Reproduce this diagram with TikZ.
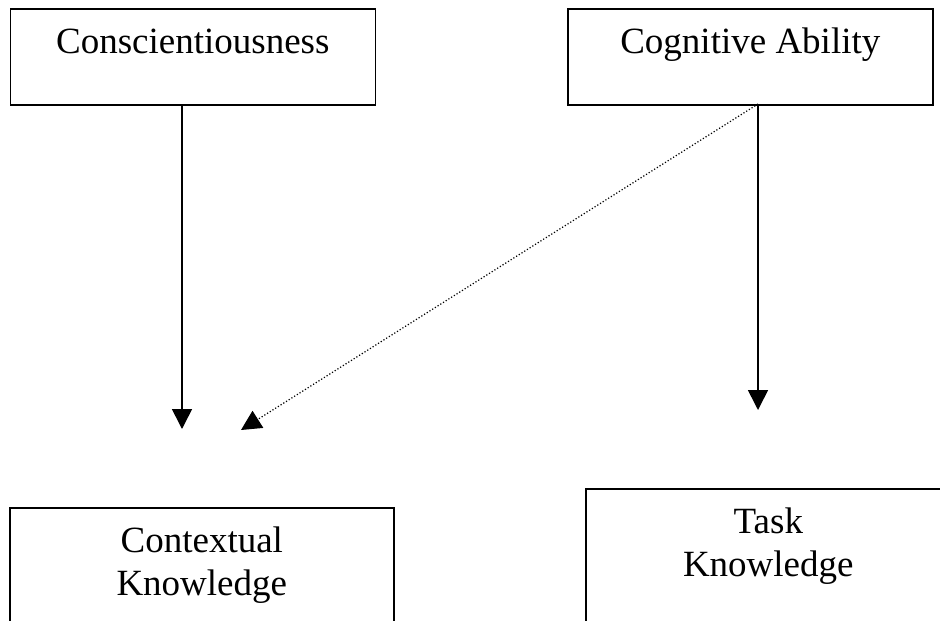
\documentclass[tikz,border=0pt]{standalone}
\usepackage{fontspec}
\setmainfont{Liberation Serif}
\usetikzlibrary{arrows.meta}
\begin{document}
\begin{tikzpicture}[x=1pt,y=-1pt,
  box/.style={draw=black, line width=1.6pt, rectangle, inner sep=0pt, anchor=north west},
  lbl/.style={inner sep=0pt, font=\fontsize{37}{43}\selectfont, align=center},
  solidarrow/.style={line width=1.6pt, -{Triangle[width=20pt,length=20pt]}},
  dotarrow/.style={line width=1.2pt, dotted, -{Triangle[width=20pt,length=20pt]}}]
\useasboundingbox (0,0) rectangle (940,621);
\clip (0,0) rectangle (940,621);
% top boxes
\node[box, minimum width=365pt, minimum height=96pt] (consc) at (9.5,8) {};
\node[lbl, anchor=base] (conscT) at ([yshift=-45pt]consc.north) {Conscientiousness};
\node[box, minimum width=365pt, minimum height=96pt] (cogn) at (567,8) {};
\node[lbl, anchor=base] (cognT) at ([yshift=-45pt]cogn.north) {Cognitive Ability};
% bottom boxes (cut off by the page)
\node[box, minimum width=384pt, minimum height=160pt] (ctx) at (9,507) {};
\node[lbl, anchor=north] (ctxT) at ([yshift=-19.5pt]ctx.north) {Contextual\\Knowledge};
\node[box, minimum width=365pt, minimum height=180pt] (task) at (585,488) {};
\node[lbl, anchor=north] (taskT) at ([yshift=-19.5pt]task.north) {Task\\Knowledge};
% arrow end points
\coordinate (s1) at (182,104);
\coordinate (e1) at (182,429);
\coordinate (s2) at (758,104);
\coordinate (e2) at (758,410);
\coordinate (e3) at (241,430);
\draw[solidarrow] (s1) -- (e1);
\draw[solidarrow] (s2) -- (e2);
\draw[dotarrow] (s2) -- (e3);
\end{tikzpicture}
\end{document}
